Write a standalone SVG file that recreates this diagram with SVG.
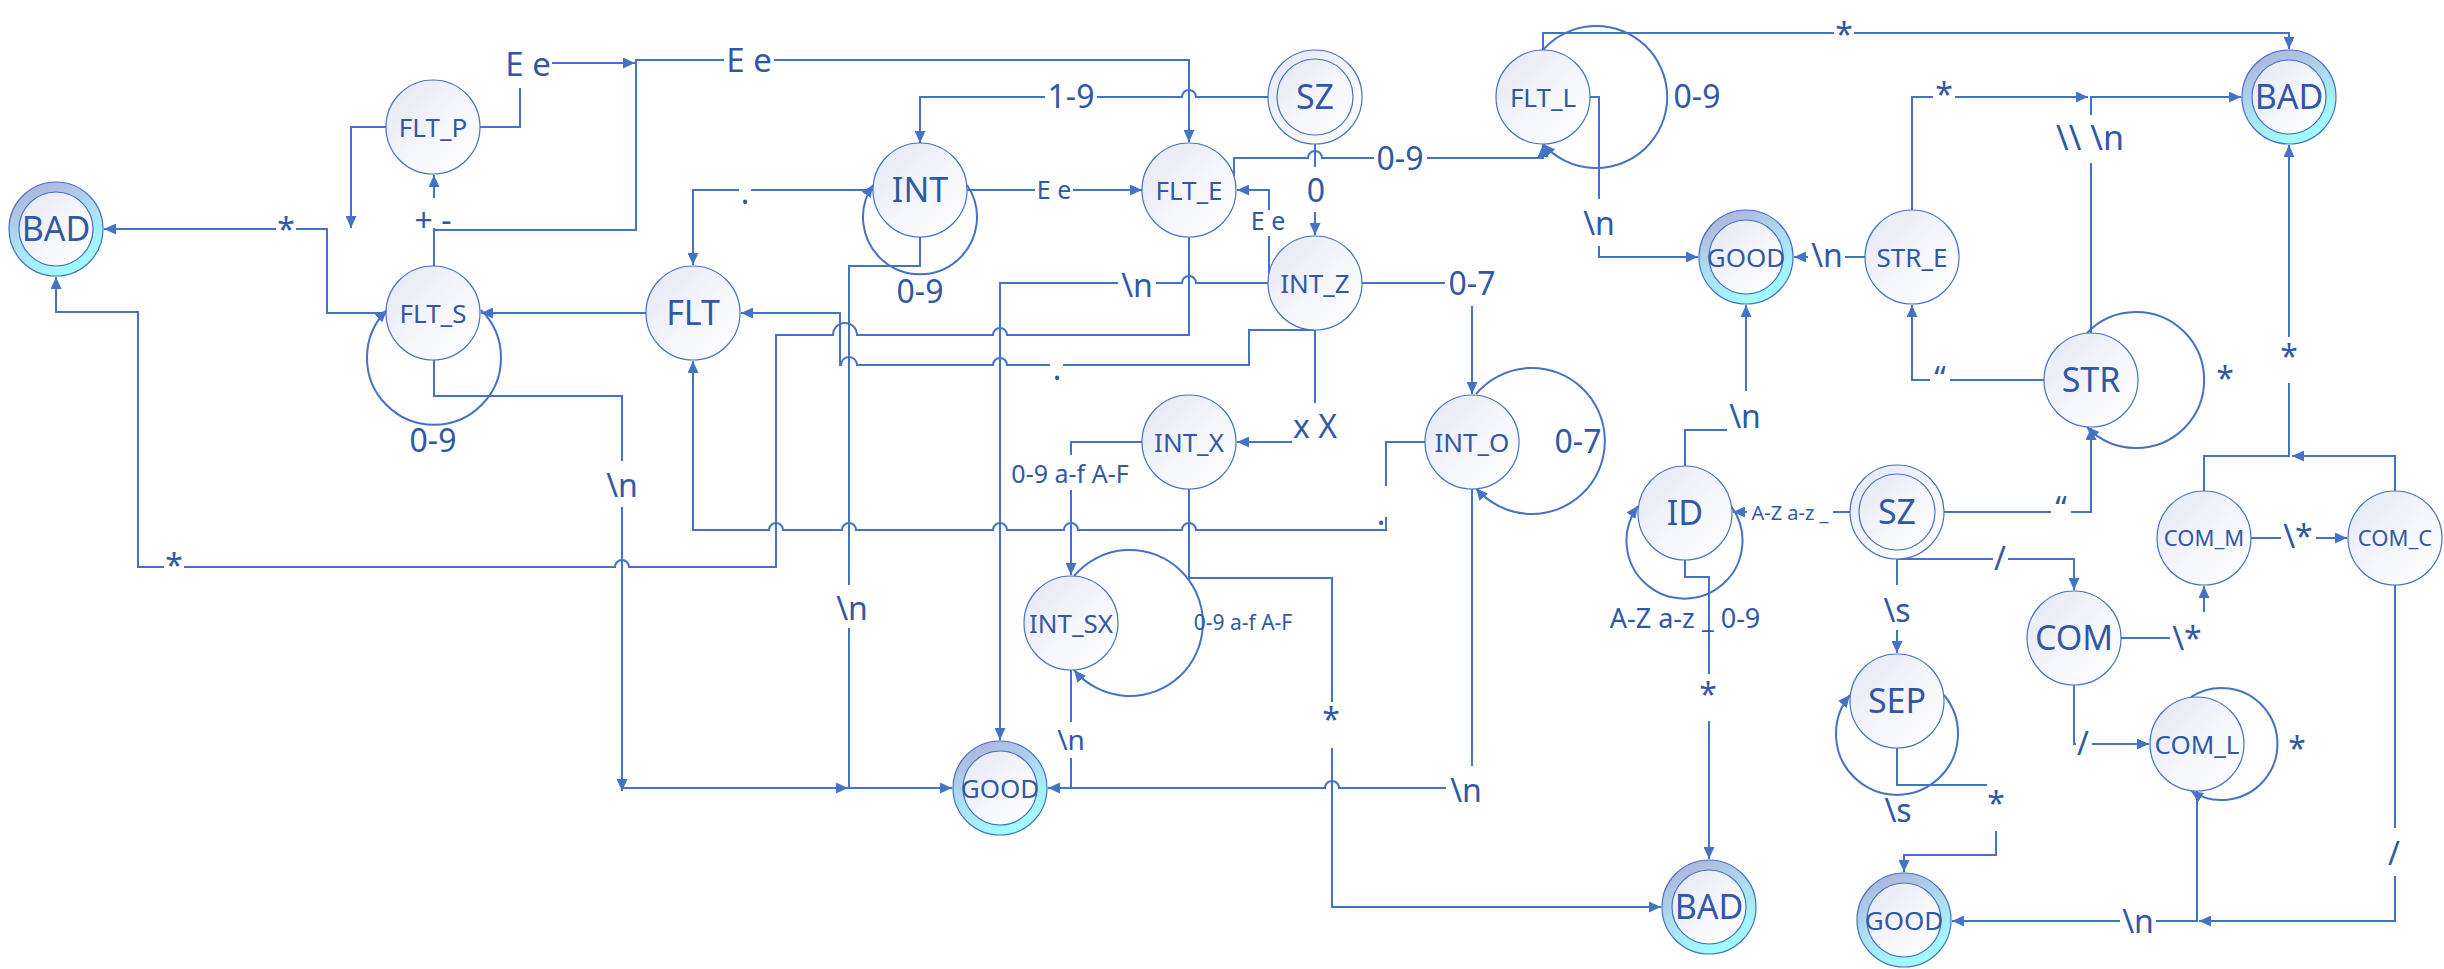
<svg xmlns="http://www.w3.org/2000/svg" width="2444" height="969" viewBox="0 0 2444 969">
<defs>
<linearGradient id="gNode" x1="0" y1="0" x2="1" y2="1">
<stop offset="0" stop-color="#e3e6f3"/><stop offset="0.55" stop-color="#f6f7fc"/><stop offset="1" stop-color="#ffffff"/>
</linearGradient>
<linearGradient id="gRing" x1="0.15" y1="0.05" x2="0.6" y2="1">
<stop offset="0" stop-color="#b0b2da"/><stop offset="0.5" stop-color="#acdff2"/><stop offset="1" stop-color="#a0ffff"/>
</linearGradient>
<marker id="arr" markerUnits="userSpaceOnUse" markerWidth="12" markerHeight="11" viewBox="0 0 12 11" refX="12" refY="5.5" orient="auto">
<path d="M0,0 L12,5.5 L0,11 z" fill="#4472c4"/>
</marker>
<style>
.n{fill:url(#gNode);stroke:#4472c4;stroke-width:1.2}
.ring{fill:url(#gRing);stroke:#4472c4;stroke-width:1.2}
.c{fill:none;stroke:#4472c4;stroke-width:2}
.a{marker-end:url(#arr)}
.t{font-family:"Noto Sans","DejaVu Sans",sans-serif;fill:#3158a6;text-anchor:middle}
.bg{fill:#ffffff}
</style>
</defs>
<rect width="2444" height="969" fill="#ffffff"/>

<g id="connectors">
<path class="c a" d="M434,267 V230 H636 V60 H1189 V142"/>
<path class="c a" d="M480,127 H520 V63 H635"/>
<path class="c a" d="M434,267 V175"/>
<path class="c a" d="M386,127 H351 V228"/>
<path class="c a" d="M387,313 H327 V229 H104"/>
<path class="c a" d="M1189,237 V335 H1007 A7,7 0 0 0 993,335 H857 A12,12 0 0 0 833,335 H776 V567 H629 A7,7 0 0 0 615,567 H138 V312 H56 V277"/>
<path class="c a" d="M873,190 H693 V265"/>
<path class="c a" d="M967,185 A57,57 0 1 1 873,185"/>
<path class="c a" d="M967,190 H1142"/>
<path class="c a" d="M1268,97 H1196 A7,7 0 0 0 1182,97 H920 V143"/>
<path class="c a" d="M1234,176 V158 H1308 A7,7 0 0 1 1322,158 H1543 V145"/>
<path class="c a" d="M1543,50 A71,71 0 1 1 1543,144"/>
<path class="c a" d="M1315,144 V235"/>
<path class="c a" d="M1269,283 V190 H1237"/>
<path class="c a" d="M1268,283 H1196 A7,7 0 0 0 1182,283 H1000 V740"/>
<path class="c a" d="M1362,283 H1472 V394"/>
<path class="c a" d="M1315,330 V442 H1237"/>
<path class="c a" d="M1315,330 H1249 V365 H1007 A7,7 0 0 0 993,365 H857 A8,8 0 0 0 841,365 H840 V313 H741"/>
<path class="c a" d="M920,237 V266 H849 V788 H952"/>
<path class="c a" d="M434,360 V396 H622 V791"/>
<path class="c a" d="M622,788 H848"/>
<path class="c a" d="M646,313 H481"/>
<path class="c a" d="M1425,442 H1386 V530 H1196 A7,7 0 0 0 1182,530 H1078 A7,7 0 0 0 1064,530 H1007 A7,7 0 0 0 993,530 H856 A7,7 0 0 0 842,530 H783 A7,7 0 0 0 769,530 H693 V361"/>
<path class="c a" d="M1476,394 A73,73 0 1 1 1476,488"/>
<path class="c a" d="M1142,442 H1071 V575"/>
<path class="c a" d="M1074,576 A73,73 0 1 1 1074,670"/>
<path class="c a" d="M1189,489 V578 H1332 V907 H1661"/>
<path class="c a" d="M1472,489 V788 H1339 A7,7 0 0 0 1325,788 H1048"/>
<path class="c" d="M1071,670 V788"/>
<path class="c a" d="M1543,50 V33 H2289 V49"/>
<path class="c a" d="M1590,97 H1599 V257 H1698"/>
<path class="c a" d="M1865,257 H1794"/>
<path class="c a" d="M1912,210 V97 H2088"/>
<path class="c a" d="M2091,333 V97 H2241"/>
<path class="c a" d="M2087,333 A68,68 0 1 1 2087,427"/>
<path class="c a" d="M2044,380 H1912 V305"/>
<path class="c a" d="M1944,512 H2091 V428"/>
<path class="c a" d="M1850,512 H1733"/>
<path class="c a" d="M1731,506 A58,58 0 1 1 1638,506"/>
<path class="c a" d="M1685,560 V577 H1709 V859"/>
<path class="c a" d="M1685,466 V430 H1746 V305"/>
<path class="c a" d="M1897,559 H2074 V590"/>
<path class="c a" d="M1897,559 V653"/>
<path class="c a" d="M1944,695 A61,61 0 1 1 1850,695"/>
<path class="c a" d="M1897,748 V785 H1996 V855 H1904 V872"/>
<path class="c a" d="M2121,638 H2204 V586"/>
<path class="c a" d="M2251,538 H2347"/>
<path class="c a" d="M2395,491 V456 H2292"/>
<path class="c a" d="M2204,491 V456 H2289 V145"/>
<path class="c a" d="M2074,685 V744 H2149"/>
<path class="c a" d="M2191,697 A56,56 0 1 1 2191,791"/>
<path class="c a" d="M2395,585 V921 H2199"/>
<path class="c a" d="M2197,791 V921 H1952"/>
<path class="c a" d="M481,310 A67,67 0 1 1 387,310"/>
</g>

<g id="labels">
<rect class="bg" x="504" y="46" width="48" height="42"/><text class="t" x="528" y="76" font-size="33">E e</text>
<rect class="bg" x="724" y="44" width="50" height="34"/><text class="t" x="749" y="72" font-size="33">E e</text>
<rect class="bg" x="1045" y="82" width="52" height="30"/><text class="t" x="1071" y="108" font-size="32">1-9</text>
<rect class="bg" x="1035" y="178" width="38" height="26"/><text class="t" x="1054" y="199" font-size="25">E e</text>
<rect class="bg" x="739" y="184" width="12" height="22"/><text class="t" x="745" y="204" font-size="32">.</text>
<text class="t" x="920" y="303" font-size="32">0-9</text>
<rect class="bg" x="276" y="214" width="20" height="24"/><text class="t" x="286" y="241" font-size="32">*</text>
<rect class="bg" x="414" y="198" width="39" height="30"/><text class="t" x="433" y="232" font-size="32">+ -</text>
<text class="t" x="433" y="452" font-size="32">0-9</text>
<rect class="bg" x="605" y="461" width="34" height="46"/><text class="t" x="622" y="497" font-size="32">\n</text>
<rect class="bg" x="164" y="552" width="20" height="23"/><text class="t" x="174" y="577" font-size="32">*</text>
<rect class="bg" x="835" y="585" width="35" height="43"/><text class="t" x="852" y="620" font-size="32">\n</text>
<rect class="bg" x="1118" y="266" width="38" height="38"/><text class="t" x="1137" y="297" font-size="32">\n</text>
<rect class="bg" x="1305" y="167" width="22" height="45"/><text class="t" x="1316" y="202" font-size="32">0</text>
<rect class="bg" x="1374" y="140" width="53" height="35"/><text class="t" x="1400" y="170" font-size="32">0-9</text>
<rect class="bg" x="1253" y="210" width="31" height="26"/><text class="t" x="1268" y="230" font-size="25">E e</text>
<rect class="bg" x="1445" y="268" width="54" height="38"/><text class="t" x="1472" y="295" font-size="32">0-7</text>
<text class="t" x="1697" y="108" font-size="32">0-9</text>
<rect class="bg" x="1580" y="199" width="37" height="47"/><text class="t" x="1599" y="235" font-size="32">\n</text>
<rect class="bg" x="1834" y="20" width="20" height="24"/><text class="t" x="1844" y="46" font-size="32">*</text>
<rect class="bg" x="1808" y="238" width="37" height="34"/><text class="t" x="1827" y="267" font-size="32">\n</text>
<rect class="bg" x="1933" y="80" width="22" height="24"/><text class="t" x="1944" y="106" font-size="32">*</text>
<rect class="bg" x="2052" y="115" width="76" height="48"/><text class="t" x="2090" y="150" font-size="34">\\ \n</text>
<text class="t" x="2225" y="390" font-size="32">*</text>
<rect class="bg" x="1930" y="364" width="20" height="22"/><text class="t" x="1940" y="390" font-size="32">“</text>
<rect class="bg" x="2051" y="495" width="20" height="23"/><text class="t" x="2061" y="520" font-size="32">“</text>
<rect class="bg" x="2280" y="337" width="18" height="46"/><text class="t" x="2289" y="368" font-size="32">*</text>
<rect class="bg" x="2281" y="518" width="35" height="38"/><text class="t" x="2298" y="548" font-size="32">\*</text>
<rect class="bg" x="2170" y="612" width="38" height="44"/><text class="t" x="2187" y="650" font-size="32">\*</text>
<rect class="bg" x="1993" y="545" width="15" height="30"/><text class="t" x="2000" y="570" font-size="32">/</text>
<rect class="bg" x="1880" y="585" width="34" height="45"/><text class="t" x="1897" y="622" font-size="32">\s</text>
<text class="t" x="1898" y="822" font-size="32">\s</text>
<rect class="bg" x="1987" y="780" width="19" height="51"/><text class="t" x="1996" y="815" font-size="32">*</text>
<rect class="bg" x="2076" y="725" width="16" height="37"/><text class="t" x="2083" y="755" font-size="32">/</text>
<text class="t" x="2297" y="760" font-size="32">*</text>
<rect class="bg" x="2383" y="828" width="23" height="48"/><text class="t" x="2394" y="865" font-size="32">/</text>
<rect class="bg" x="2120" y="900" width="36" height="40"/><text class="t" x="2138" y="933" font-size="32">\n</text>
<rect class="bg" x="1292" y="403" width="48" height="43"/><text class="t" x="1315" y="438" font-size="32">x X</text>
<rect class="bg" x="1008" y="455" width="125" height="35"/><text class="t" x="1070" y="483" font-size="25">0-9 a-f A-F</text>
<text class="t" x="1243" y="630" font-size="21">0-9 a-f A-F</text>
<rect class="bg" x="1055" y="722" width="32" height="36"/><text class="t" x="1071" y="750" font-size="28">\n</text>
<rect class="bg" x="1322" y="702" width="19" height="46"/><text class="t" x="1331" y="731" font-size="32">*</text>
<rect class="bg" x="1446" y="766" width="44" height="44"/><text class="t" x="1466" y="802" font-size="32">\n</text>
<rect class="bg" x="1378" y="486" width="16" height="31"/><text class="t" x="1381" y="525" font-size="32">.</text>
<rect class="bg" x="1050" y="355" width="13" height="25"/><text class="t" x="1057" y="380" font-size="32">.</text>
<rect class="bg" x="1727" y="391" width="36" height="42"/><text class="t" x="1745" y="428" font-size="32">\n</text>
<rect class="bg" x="1747" y="500" width="86" height="24"/><text class="t" x="1790" y="520" font-size="20">A-Z a-z _</text>
<text class="t" x="1685" y="628" font-size="27">A-Z a-z _ 0-9</text>
<rect class="bg" x="1699" y="674" width="19" height="47"/><text class="t" x="1708" y="706" font-size="32">*</text>
<text class="t" x="1578" y="453" font-size="32">0-7</text>
</g>

<g id="n_BAD_L"><circle class="ring" cx="56" cy="229" r="47"/><circle class="n" cx="56" cy="229" r="37"/><text class="t" x="56" y="241" font-size="34">BAD</text></g>
<g id="n_FLT_P"><circle class="n" cx="433" cy="127" r="47"/><text class="t" x="433" y="136.5" font-size="26">FLT_P</text></g>
<g id="n_FLT_S"><circle class="n" cx="433" cy="313" r="47"/><text class="t" x="433" y="322.5" font-size="26">FLT_S</text></g>
<g id="n_FLT"><circle class="n" cx="693" cy="313" r="47"/><text class="t" x="693" y="325" font-size="34">FLT</text></g>
<g id="n_INT"><circle class="n" cx="920" cy="190" r="47"/><text class="t" x="920" y="202" font-size="34">INT</text></g>
<g id="n_FLT_E"><circle class="n" cx="1189" cy="190" r="47"/><text class="t" x="1189" y="199.5" font-size="26">FLT_E</text></g>
<g id="n_SZ_1"><circle class="n" cx="1315" cy="97" r="47"/><circle class="n" cx="1315" cy="97" r="38"/><text class="t" x="1315" y="109" font-size="34">SZ</text></g>
<g id="n_INT_Z"><circle class="n" cx="1315" cy="283" r="47"/><text class="t" x="1315" y="292.5" font-size="26">INT_Z</text></g>
<g id="n_FLT_L"><circle class="n" cx="1543" cy="97" r="47"/><text class="t" x="1543" y="106.5" font-size="26">FLT_L</text></g>
<g id="n_GOOD_T"><circle class="ring" cx="1746" cy="257" r="47"/><circle class="n" cx="1746" cy="257" r="37"/><text class="t" x="1746" y="266.5" font-size="26">GOOD</text></g>
<g id="n_STR_E"><circle class="n" cx="1912" cy="257" r="47"/><text class="t" x="1912" y="266.5" font-size="26">STR_E</text></g>
<g id="n_BAD_T"><circle class="ring" cx="2289" cy="97" r="47"/><circle class="n" cx="2289" cy="97" r="37"/><text class="t" x="2289" y="109" font-size="34">BAD</text></g>
<g id="n_INT_X"><circle class="n" cx="1189" cy="442" r="47"/><text class="t" x="1189" y="451.5" font-size="26">INT_X</text></g>
<g id="n_INT_SX"><circle class="n" cx="1071" cy="623" r="47"/><text class="t" x="1071" y="632.5" font-size="26">INT_SX</text></g>
<g id="n_INT_O"><circle class="n" cx="1472" cy="442" r="47"/><text class="t" x="1472" y="451.5" font-size="26">INT_O</text></g>
<g id="n_GOOD_M"><circle class="ring" cx="1000" cy="788" r="47"/><circle class="n" cx="1000" cy="788" r="37"/><text class="t" x="1000" y="797.5" font-size="26">GOOD</text></g>
<g id="n_ID"><circle class="n" cx="1685" cy="513" r="47"/><text class="t" x="1685" y="525" font-size="34">ID</text></g>
<g id="n_BAD_B"><circle class="ring" cx="1709" cy="907" r="47"/><circle class="n" cx="1709" cy="907" r="37"/><text class="t" x="1709" y="919" font-size="34">BAD</text></g>
<g id="n_STR"><circle class="n" cx="2091" cy="380" r="47"/><text class="t" x="2091" y="392" font-size="34">STR</text></g>
<g id="n_SZ_2"><circle class="n" cx="1897" cy="512" r="47"/><circle class="n" cx="1897" cy="512" r="38"/><text class="t" x="1897" y="524" font-size="34">SZ</text></g>
<g id="n_COM_M"><circle class="n" cx="2204" cy="538" r="47"/><text class="t" x="2204" y="546" font-size="22">COM_M</text></g>
<g id="n_COM_C"><circle class="n" cx="2395" cy="538" r="47"/><text class="t" x="2395" y="546" font-size="22">COM_C</text></g>
<g id="n_COM"><circle class="n" cx="2074" cy="638" r="47"/><text class="t" x="2074" y="650" font-size="34">COM</text></g>
<g id="n_SEP"><circle class="n" cx="1897" cy="701" r="47"/><text class="t" x="1897" y="713" font-size="34">SEP</text></g>
<g id="n_COM_L"><circle class="n" cx="2197" cy="744" r="47"/><text class="t" x="2197" y="753.5" font-size="26">COM_L</text></g>
<g id="n_GOOD_B"><circle class="ring" cx="1904" cy="920" r="47"/><circle class="n" cx="1904" cy="920" r="37"/><text class="t" x="1904" y="929.5" font-size="26">GOOD</text></g>
</svg>
